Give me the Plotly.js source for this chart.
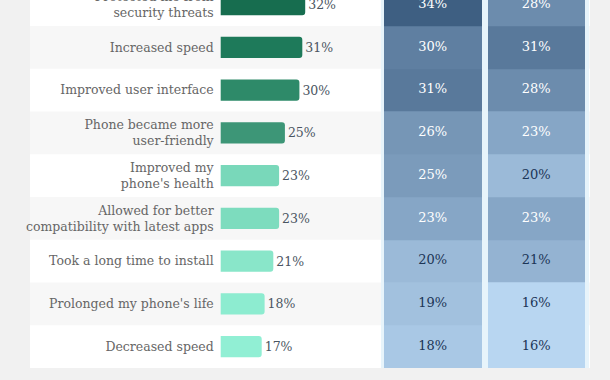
<!DOCTYPE html>
<html>
<head>
<meta charset="utf-8">
<script src="https://cdn.plot.ly/plotly-3.0.1.min.js"></script>
<style>
html,body{margin:0;padding:0;background:#f1f1f1;}
#chart{width:610px;height:380px;}
</style>
</head>
<body>
<div id="chart"></div>
<script>
// ---- data ----
var categories = [
  "Protected me from<br>security threats",
  "Increased speed",
  "Improved user interface",
  "Phone became more<br>user-friendly",
  "Improved my<br>phone's health",
  "Allowed for better<br>compatibility with latest apps",
  "Took a long time to install",
  "Prolonged my phone's life",
  "Decreased speed"
];
var overall = [32, 31, 30, 25, 23, 23, 21, 18, 17];
var column1 = [34, 30, 31, 26, 25, 23, 20, 19, 18];
var column2 = [28, 31, 28, 23, 20, 23, 21, 16, 16];
var columnKeys = ["A", "B"];

// ---- styles ----
var barColors = ["#176d4f", "#1e7a5a", "#2e8a69", "#3d9677", "#79d8ba", "#7ddcbe", "#89e6c9", "#8decd0", "#91efd4"];
var slab = "DejaVu Serif, serif";
var W = 610;

// heatmap z (rows x columns)
var z = categories.map(function (c, i) { return [column1[i], column2[i]]; });

var barTrace = {
  type: "bar",
  orientation: "h",
  y: categories,
  x: overall,
  marker: { color: barColors, cornerradius: 3 },
  text: overall.map(function (v) { return v + "%"; }),
  textposition: "outside",
  cliponaxis: false,
  textfont: { family: slab, size: 12.5, color: "#4a5561" },
  hoverinfo: "skip",
  xaxis: "x",
  yaxis: "y"
};

var heatTrace = {
  type: "heatmap",
  x: columnKeys,
  y: categories,
  z: z,
  zmin: 16,
  zmax: 34,
  xgap: 6,
  ygap: 0,
  showscale: false,
  colorscale: [
    [0.0, "#b8d6f1"],
    [0.111, "#a9c8e5"],
    [0.222, "#9bbad8"],
    [0.389, "#86a6c6"],
    [0.556, "#7696b6"],
    [0.667, "#6c8cad"],
    [0.833, "#59799b"],
    [1.0, "#3e5f82"]
  ],
  hoverinfo: "skip",
  xaxis: "x2",
  yaxis: "y"
};

var hx = [], hy = [], ht = [], hc = [];
categories.forEach(function (c, i) {
  [column1[i], column2[i]].forEach(function (v, j) {
    hx.push(columnKeys[j]);
    hy.push(c);
    ht.push(v + "%");
    hc.push(v >= 23 ? "#ffffff" : "#1c3556");
  });
});
var heatText = {
  type: "scatter",
  mode: "text",
  x: hx,
  y: hy,
  text: ht,
  textfont: { family: slab, size: 13, color: hc },
  hoverinfo: "skip",
  xaxis: "x2",
  yaxis: "y"
};

// decorative row stripes and panel
var shapes = [
  { type: "rect", xref: "paper", yref: "paper", x0: 30 / W, x1: 590 / W, y0: 0, y1: 1,
    fillcolor: "#ffffff", line: { width: 0 }, layer: "below" }
];
categories.forEach(function (c, i) {
  if (i % 2 === 1) {
    shapes.push({ type: "rect", xref: "paper", yref: "y", x0: 30 / W, x1: 590 / W,
      y0: i - 0.5, y1: i + 0.5, fillcolor: "#f7f7f7", line: { width: 0 }, layer: "below" });
  }
});
shapes.push({ type: "rect", xref: "paper", yref: "paper", x0: 381 / W, x1: 589 / W, y0: 0, y1: 1,
  fillcolor: "#e7f4fb", line: { width: 0 }, layer: "below" });

var layout = {
  width: 610,
  height: 380,
  margin: { l: 0, r: 0, t: 0, b: 12, pad: 0 },
  paper_bgcolor: "#f1f1f1",
  plot_bgcolor: "rgba(0,0,0,0)",
  showlegend: false,
  bargap: 0.5,
  xaxis: {
    domain: [220.7 / W, 380 / W],
    range: [2.86, 2.86 + (380 - 220.7) / 2.9],
    showgrid: false, zeroline: false, showticklabels: false, showline: false, ticks: "", fixedrange: true
  },
  xaxis2: {
    domain: [381 / W, 588 / W],
    range: [-0.5, 1.5],
    type: "category",
    showgrid: false, zeroline: false, showticklabels: false, showline: false, ticks: "", fixedrange: true
  },
  yaxis: {
    type: "category",
    categoryorder: "array",
    categoryarray: categories,
    range: [8.5, -0.108],
    showgrid: false, zeroline: false, showline: false,
    ticks: "",
    ticklabelstandoff: 6,
    tickfont: { family: slab, size: 12.5, color: "#666666" },
    fixedrange: true
  },
  shapes: shapes
};

Plotly.newPlot("chart", [heatTrace, barTrace, heatText], layout, { displayModeBar: false, staticPlot: true });
</script>
</body>
</html>
